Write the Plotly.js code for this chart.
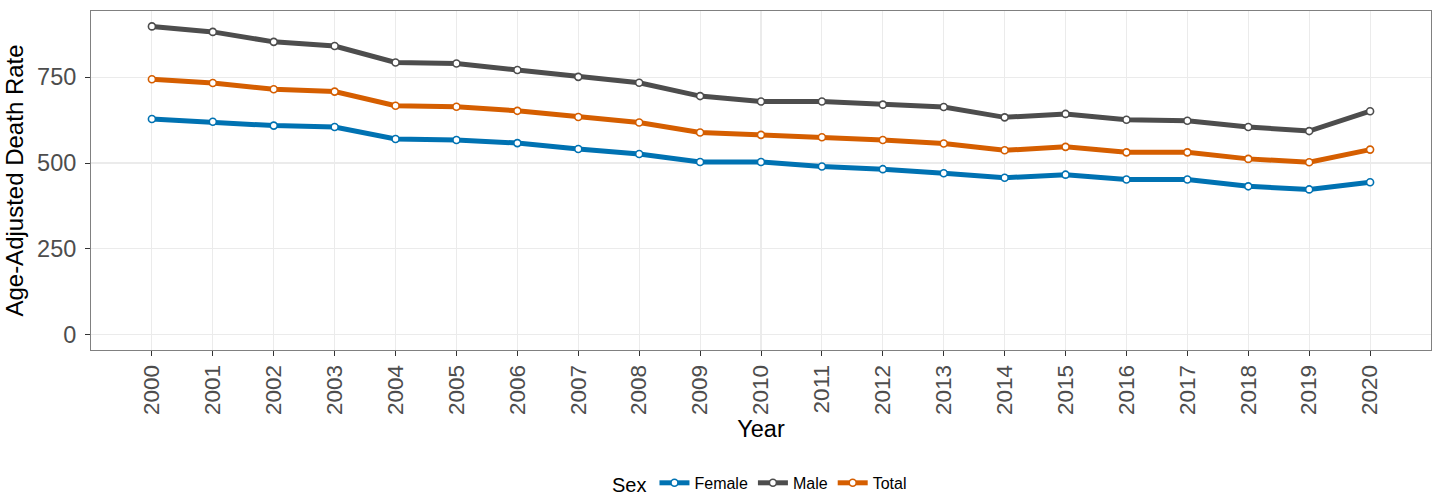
<!DOCTYPE html>
<html>
<head>
<meta charset="utf-8">
<script src="https://cdn.plot.ly/plotly-3.0.1.min.js"></script>
<style>html,body{margin:0;padding:0;background:#fff;}#chart{width:1437px;height:498px;}</style>
</head>
<body>
<div id="chart"></div>
<script>
const years = [2000,2001,2002,2003,2004,2005,2006,2007,2008,2009,2010,2011,2012,2013,2014,2015,2016,2017,2018,2019,2020];
const female = [628,620,609,605,570,567,558,541,526,503,503,490,482,470,457,466,452,452,432,423,444];
const male = [898,882,853,841,793,790,771,751,734,695,679,679,670,663,633,643,626,623,605,593,651];
const total = [744,733,715,708,667,664,652,634,618,589,582,575,567,557,537,547,531,531,512,502,539];
const seriesNames = ['Female','Male','Total'];
const colors = ['#0072B2','#4D4D4D','#D55E00'];
const yTicks = [0,250,500,750];

const font = 'Liberation Sans, Arial, Helvetica, sans-serif';
const data = [female, male, total].map((vals, i) => ({
  x: years, y: vals, name: seriesNames[i], type: 'scatter', mode: 'lines+markers',
  line: {color: colors[i], width: 5},
  marker: {size: 7, color: '#ffffff', line: {color: colors[i], width: 1.6}}
}));

const layout = {
  width: 1437, height: 498,
  margin: {l: 91, r: 6, t: 11, b: 148, autoexpand: false},
  paper_bgcolor: '#ffffff', plot_bgcolor: '#ffffff',
  font: {family: font, color: '#000'},
  showlegend: true,
  xaxis: {
    range: [1999, 2021], tickmode: 'array', tickvals: years, ticktext: years.map(String),
    tickangle: -90, tickfont: {size: 22.5, color: '#4D4D4D', family: font},
    ticks: 'outside', ticklen: 5, tickcolor: '#333333', tickwidth: 1,
    showgrid: true, gridcolor: '#EBEBEB', gridwidth: 1.1, zeroline: false,
    showline: true, linecolor: '#808080', linewidth: 1, mirror: true, automargin: false,
    title: {text: 'Year', font: {size: 23.5, color: '#000'}, standoff: 6}
  },
  yaxis: {
    range: [-44.9, 942.9], tickmode: 'array', tickvals: yTicks, ticktext: yTicks.map(String),
    tickfont: {size: 23.5, color: '#4D4D4D', family: font},
    ticks: 'outside', ticklen: 5, tickcolor: '#333333', tickwidth: 1, ticklabelstandoff: 4,
    showgrid: true, gridcolor: '#EBEBEB', gridwidth: 1.1, zeroline: false,
    showline: true, linecolor: '#808080', linewidth: 1, mirror: true, automargin: false,
    title: {text: 'Age-Adjusted Death Rate', font: {size: 24, color: '#000'}, standoff: 6}
  },
  legend: {
    orientation: 'h', x: 0.5, xanchor: 'center', y: -0.395, yanchor: 'middle',
    title: {text: 'Sex', font: {size: 20, color: '#000'}, side: 'left'},
    font: {size: 16, color: '#000'}, itemwidth: 30, bgcolor: 'rgba(0,0,0,0)'
  }
};

Plotly.newPlot('chart', data, layout, {displayModeBar: false, staticPlot: true});
</script>
</body>
</html>
